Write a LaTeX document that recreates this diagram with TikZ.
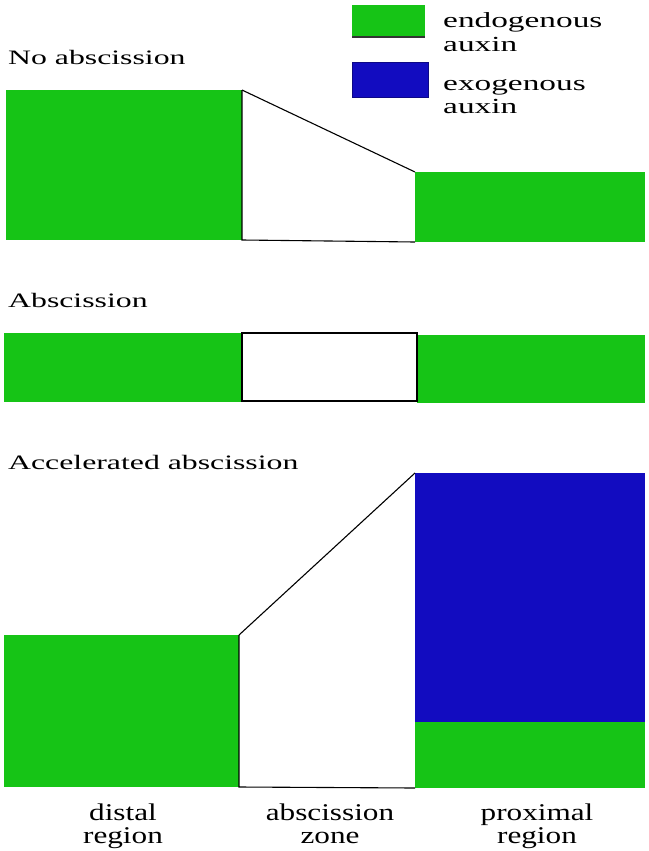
\documentclass[tikz,border=0pt]{standalone}
\usepackage{fontspec}
\setmainfont{Liberation Serif}
\newfontfamily\titlefont{Liberation Serif}[FakeStretch=1.55]
\newfontfamily\labfont{Liberation Serif}[FakeStretch=1.3]
\definecolor{endo}{RGB}{22,196,22}
\definecolor{exo}{RGB}{18,12,192}
\begin{document}
\begin{tikzpicture}[x=1pt,y=-1pt,
  block/.style={inner sep=0pt,outer sep=0pt,anchor=north west,draw=none},
  green/.style={block,fill=endo},
  blue/.style={block,fill=exo},
  zone/.style={block,fill=white},
  edge/.style={draw=black,line width=1.1pt},
  ttl/.style={anchor=base west,inner sep=0pt,font=\titlefont\fontsize{20.5}{24}\selectfont},
  leg/.style={anchor=base west,inner sep=0pt,font=\titlefont\fontsize{21.5}{24}\selectfont},
  lab/.style={anchor=base,inner sep=0pt,align=center,font=\labfont\fontsize{24}{23}\selectfont}]
\useasboundingbox (0,0) rectangle (648,851);
% legend
\node[green,minimum width=73pt,minimum height=32pt] (lg) at (352,5) {};
\draw[line width=1.5pt,black!80] (lg.south west) -- (lg.south east);
\node[blue,draw=exo!70!black,line width=0.6pt,minimum width=76pt,minimum height=35pt] (lb) at (352,62) {};
\node[leg] (lgt1) at (443,28) {endogenous};
\node[leg] (lgt2) at (443,52) {auxin};
\node[leg] (lbt1) at (443,90) {exogenous};
\node[leg] (lbt2) at (443,113) {auxin};
% panel 1
\node[ttl] (t1) at (8,65) {No abscission};
\node[green,minimum width=236pt,minimum height=150pt] (d1) at (6,90) {};
\node[green,minimum width=230pt,minimum height=70pt] (p1) at (415,172) {};
\coordinate (z1bl) at (d1.south east);
\coordinate (z1br) at (p1.south west);
\draw[edge] (d1.north east) -- (z1bl) -- (z1br);
\draw[edge] (d1.north east) -- (p1.north west);
% panel 2
\node[ttl] (t2) at (8,307) {Abscission};
\node[green,minimum width=238pt,minimum height=69pt] (d2) at (4,333) {};
\node[zone,minimum width=175pt,minimum height=68pt] (z2) at (242,333) {};
\node[green,minimum width=228pt,minimum height=68pt] (p2) at (417,335) {};
\draw[edge] (z2.north west) rectangle (z2.south east);
% panel 3
\node[ttl] (t3) at (8,469) {Accelerated abscission};
\node[green,minimum width=235pt,minimum height=152pt] (d3) at (4,635) {};
\node[blue,minimum width=230pt,minimum height=249pt] (p3b) at (415,473) {};
\node[green,minimum width=230pt,minimum height=66pt] (p3g) at (415,722) {};
\coordinate (z3br) at (p3g.south west);
\draw[edge] (d3.north east) -- (d3.south east) -- (z3br);
\draw[edge] (d3.north east) -- (p3b.north west);
% bottom labels
\node[lab] (l1) at (123,843) {distal\\region};
\node[lab] (l2) at (330,843) {abscission\\zone};
\node[lab] (l3) at (537,843) {proximal\\region};
\end{tikzpicture}
\end{document}
